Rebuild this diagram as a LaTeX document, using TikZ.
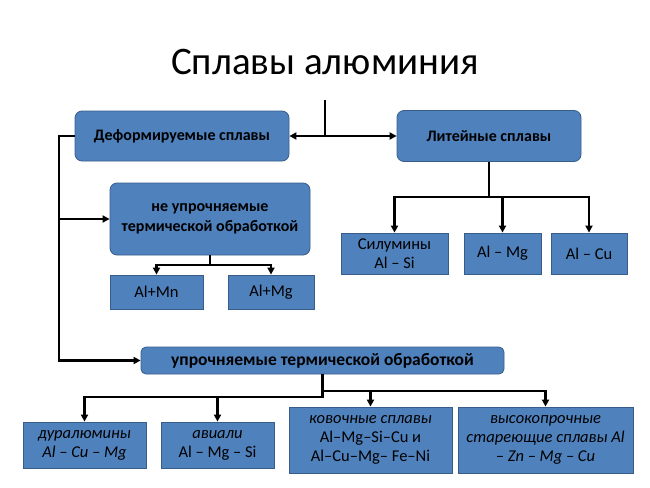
\documentclass[tikz,border=0pt]{standalone}
\usepackage{fontspec}
\setmainfont{Carlito}
\usetikzlibrary{arrows.meta}
\definecolor{boxblue}{HTML}{4F81BD}
\definecolor{boxline}{HTML}{385D8A}
\begin{document}
\begin{tikzpicture}[x=1pt,y=-1pt,
  box/.style={draw=boxline, fill=boxblue, line width=.8pt, align=center, inner sep=1pt, font=\fontsize{16.5}{19}\selectfont},
  rbox/.style={box, rounded corners=7pt, font=\fontsize{16}{20}\selectfont\bfseries},
  link/.style={line width=2.2pt},
  arr/.style={link, -{Triangle[length=7pt,width=7pt]}}]
\useasboundingbox (0,0) rectangle (650,487);
\node (title) at (325,62) {\fontsize{39}{44}\selectfont Сплавы алюминия};
\node[rbox, minimum width=214, minimum height=50] (deform) at (182,136) {Деформируемые сплавы};
\node[rbox, minimum width=184, minimum height=51] (lit) at (489,136) {Литейные сплавы};
\node[rbox, minimum width=200, minimum height=72] (neupr) at (210,219) {не упрочняемые\\термической обработкой};
\node[box, minimum width=93, minimum height=34] (almn) at (156.5,292) {Al+Mn};
\node[box, minimum width=86, minimum height=34] (almgA) at (271,292) {Al+Mg};
\node[box, minimum width=107, minimum height=41] (silum) at (394.5,253.5) {Силумины\\Al -- Si};
\node[box, minimum width=77, minimum height=41] (almgB) at (502.5,253.5) {Al -- Mg};
\node[box, minimum width=76, minimum height=41] (alcu) at (589,253.5) {Al -- Cu};
\node[rbox, rounded corners=5pt, minimum width=363, minimum height=27, font=\fontsize{17.5}{20}\selectfont\bfseries] (upr) at (322.5,360.5) {упрочняемые термической обработкой};
\node[box, minimum width=123, minimum height=46] (dural) at (84.5,445) {\itshape дуралюмины\\\itshape Al -- Cu -- Mg};
\node[box, minimum width=113, minimum height=46] (aviali) at (217.5,445) {\itshape авиали\\Al -- Mg -- Si};
\node[box, minimum width=163, minimum height=66] (kov) at (370.5,440) {\itshape ковочные сплавы\\Al--Mg--Si--Cu и\\Al--Cu--Mg-- Fe--Ni};
\node[box, minimum width=175, minimum height=66, font=\fontsize{16.5}{19}\selectfont\itshape] (vys) at (545.5,440) {высокопрочные\\стареющие сплавы Al\\-- Zn -- Mg -- Cu};
\coordinate (stem) at (325,100);
\coordinate (trunk) at (59,0);
\coordinate (litbus) at (0,197);
\coordinate (nbus) at (0,265);
\coordinate (ubusL) at (0,397);
\coordinate (ubusR) at (0,391);
\draw[link] (stem) -- (stem |- deform.east);
\draw[link, {Triangle[length=7pt,width=7pt]}-{Triangle[length=7pt,width=7pt]}] (deform.east) -- (lit.west);
\draw[arr] (deform.west) -- (trunk |- deform.west) -- (trunk |- upr.west) -- (upr.west);
\draw[arr] (trunk |- neupr.west) -- (neupr.west);
\draw[arr] (lit.south) -- (lit.south |- litbus) -| (silum.north);
\draw[arr] (lit.south |- litbus) -| (alcu.north);
\draw[arr] (almgB.north |- litbus) -- (almgB.north);
\draw[arr] (neupr.south) -- (neupr.south |- nbus) -| (almn.north);
\draw[arr] (neupr.south |- nbus) -| (almgA.north);
\draw[arr] (upr.south) -- (upr.south |- ubusL) -| (dural.north);
\draw[arr] (aviali.north |- ubusL) -- (aviali.north);
\draw[arr] (upr.south |- ubusR) -| (vys.north);
\draw[arr] (kov.north |- ubusR) -- (kov.north);
\end{tikzpicture}
\end{document}
